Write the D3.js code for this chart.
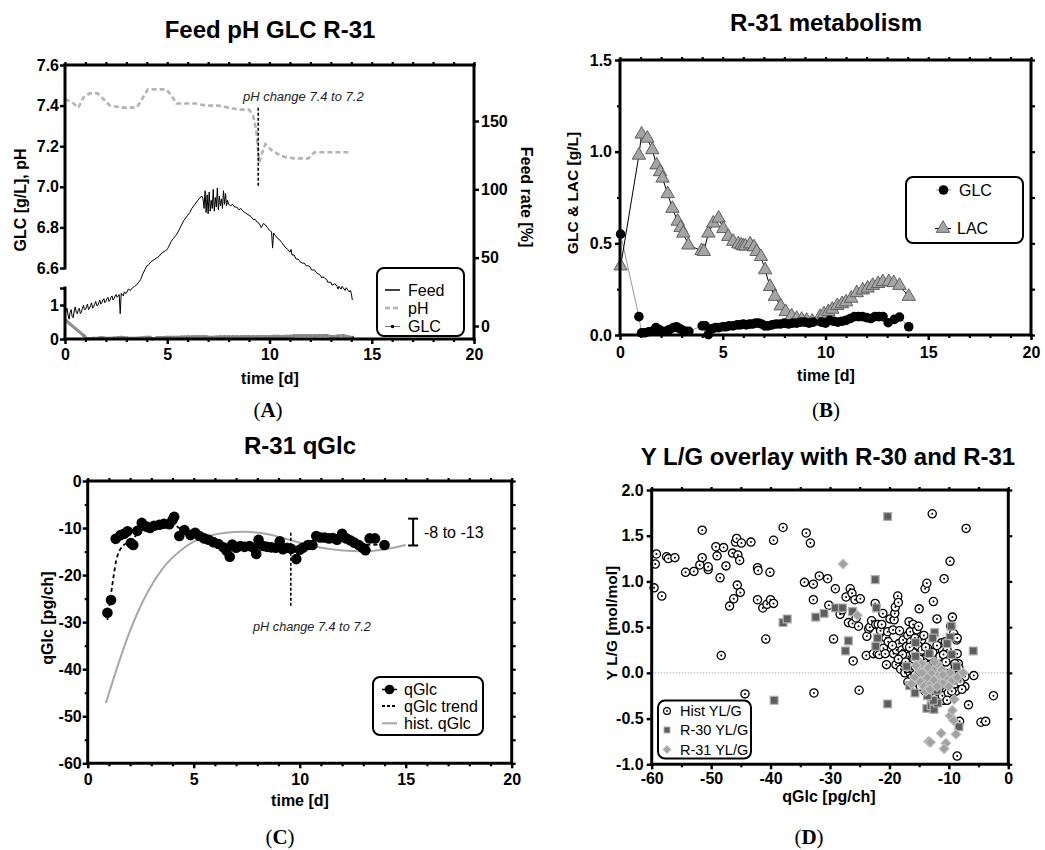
<!DOCTYPE html>
<html><head><meta charset="utf-8">
<script src="https://cdn.jsdelivr.net/npm/d3@7"></script>
<style>
body{margin:0;background:#fff}
svg{display:block}
</style></head><body>
<svg id="c" width="1045" height="850"></svg>
<script>
// ===================== DATA =====================
// Panel A: feed rate [%] over time [d]
const feedRate = [
[0,7],[0.05,11],[0.1,13],[0.15,8],[0.2,5],[0.25,10],[0.3,12],[0.35,7],[0.4,6],[0.45,11],[0.5,14],[0.55,10],[0.6,9],[0.65,12],[0.7,13],[0.75,9],[0.8,10],[0.85,13],[0.9,15],[0.95,12],
[1,12],[1.05,14],[1.1,16],[1.15,12],[1.2,13],[1.25,15],[1.3,17],[1.35,13],[1.4,14],[1.45,16],[1.5,18],[1.55,15],[1.6,15],[1.65,17],[1.7,19],[1.75,16],[1.8,17],[1.85,19],[1.9,20],[1.95,17],
[2,18],[2.05,20],[2.1,21],[2.15,18],[2.2,19],[2.25,21],[2.3,22],[2.35,19],[2.4,20],[2.45,22],[2.5,23],[2.55,21],[2.6,22],[2.65,23],[2.7,9],[2.75,24],[2.8,23],[2.85,22],[2.9,25],[2.95,24],
[3,24],[3.1,27],[3.2,26],[3.3,28],[3.4,29],[3.5,30],[3.6,32],[3.7,34],[3.8,38],[3.9,41],
[4,44],[4.1,45],[4.2,47],[4.3,48],[4.4,49],[4.5,50],[4.6,51],[4.7,53],[4.8,54],[4.9,55],
[5,56],[5.1,59],[5.2,62],[5.3,64],[5.4,66],[5.5,68],[5.6,71],[5.7,74],[5.8,77],[5.9,79],
[6,81],[6.1,83],[6.2,86],[6.3,88],[6.4,90],[6.5,92],[6.6,94],[6.7,95],[6.75,93],
[6.8,86],[6.85,99],[6.9,83],[6.95,96],[7,82],[7.05,98],[7.1,84],[7.15,92],[7.2,86],[7.25,100],
[7.3,84],[7.35,94],[7.4,87],[7.45,101],[7.5,85],[7.55,95],[7.6,88],[7.65,93],[7.7,86],[7.75,99],
[7.8,89],[7.85,97],[7.9,88],[7.95,92],[8,89],[8.1,88],[8.2,89],[8.3,87],[8.4,87],[8.5,85],
[8.6,86],[8.7,84],[8.8,83],[8.9,82],[9,81],[9.1,80],[9.2,78],[9.3,78],[9.4,76],[9.5,75],
[9.6,72],[9.7,75],[9.8,74],[9.9,72],[10,70],[10.1,69],[10.15,57],[10.2,68],[10.3,66],[10.4,64],
[10.5,63],[10.6,61],[10.7,59],[10.8,57],[10.9,56],[11,54],[11.05,56],[11.1,52],[11.2,52],[11.3,49],[11.4,49],
[11.5,47],[11.6,46],[11.7,46],[11.8,44],[11.9,44],[12,43],[12.05,41],[12.1,41],[12.2,41],[12.3,39],[12.4,38],
[12.5,37],[12.55,35],[12.6,36],[12.7,35],[12.8,34],[12.85,32],[12.9,32],[13,32],[13.05,30],[13.1,30],[13.2,31],[13.3,29],[13.35,27],[13.4,29],
[13.5,27],[13.55,29],[13.6,28],[13.7,26],[13.75,28],[13.8,27],[13.9,25],[13.95,26],[14,24],[14.05,19]
];
// Panel A: pH over time
const pHData = [
[0,7.43],[0.3,7.42],[0.65,7.39],[0.9,7.44],[1.2,7.46],[1.6,7.46],[1.9,7.43],[2.2,7.40],[2.8,7.39],
[3.5,7.39],[3.7,7.42],[4.05,7.48],[4.5,7.48],[4.95,7.48],[5.2,7.45],[5.45,7.41],[6.0,7.41],[6.4,7.41],
[6.9,7.40],[7.5,7.40],[8.0,7.39],[8.5,7.38],[9.0,7.38],[9.2,7.35],[9.35,7.28],[9.5,7.12],[9.65,7.17],
[9.8,7.21],[10.1,7.18],[10.6,7.15],[11.2,7.14],[11.9,7.14],[12.2,7.17],[13.0,7.17],[14.0,7.17]
];
// Panel A & B: glucose [g/L]
const glcData = [
[0.03,0.55],[0.92,0.10],[1.05,0.012],[1.2,0.012],[1.4,0.018],[1.6,0.022],[1.75,0.04],[1.9,0.03],[2.05,0.02],[2.2,0.02],
[2.4,0.03],[2.6,0.04],[2.75,0.045],[2.9,0.035],[3.05,0.025],[3.2,0.02],[3.35,0.02],[4.0,0.05],[4.15,0.05],[4.3,0.002],
[4.5,0.035],[4.65,0.04],[4.8,0.04],[5.0,0.045],[5.15,0.045],[5.3,0.05],[5.5,0.05],[5.7,0.055],[5.85,0.055],[6.0,0.06],
[6.15,0.055],[6.3,0.06],[6.45,0.06],[6.6,0.065],[6.75,0.065],[6.9,0.06],[7.05,0.05],[7.2,0.05],[7.4,0.055],[7.6,0.06],
[7.8,0.06],[8.0,0.065],[8.2,0.06],[8.4,0.065],[8.6,0.065],[8.8,0.07],[9.0,0.07],[9.2,0.065],[9.4,0.07],[9.8,0.07],
[10.0,0.065],[10.2,0.08],[10.4,0.075],[10.6,0.07],[10.8,0.075],[11.0,0.08],[11.2,0.09],[11.4,0.10],[11.6,0.10],[11.8,0.10],
[12.0,0.095],[12.2,0.09],[12.4,0.10],[12.6,0.10],[12.8,0.10],[13.05,0.067],[13.35,0.085],[13.6,0.098],[14.05,0.045]
];
// Panel B: lactate [g/L]
const lacData = [
[0.03,0.376],[0.92,0.98],[1.05,1.095],[1.33,1.073],[1.57,1.01],[1.78,0.927],[1.95,0.89],[2.07,0.855],[2.32,0.77],[2.55,0.69],
[2.81,0.62],[2.95,0.585],[3.08,0.555],[3.33,0.49],[3.97,0.46],[4.08,0.455],[4.3,0.555],[4.54,0.61],[4.8,0.637],[5.03,0.58],
[5.27,0.537],[5.51,0.51],[5.76,0.496],[5.9,0.49],[6.0,0.485],[6.1,0.485],[6.33,0.496],[6.52,0.48],[6.65,0.455],[6.86,0.427],
[7.06,0.355],[7.3,0.264],[7.54,0.21],[7.82,0.158],[8.06,0.127],[8.35,0.104],[8.6,0.09],[8.84,0.085],[9.08,0.08],[9.35,0.075],
[9.73,0.10],[9.93,0.115],[10.14,0.127],[10.33,0.14],[10.57,0.16],[10.8,0.17],[11.0,0.18],[11.25,0.2],[11.52,0.23],[11.81,0.245],
[12.05,0.255],[12.3,0.27],[12.56,0.28],[12.79,0.29],[13.08,0.29],[13.32,0.285],[13.6,0.27],[14.05,0.21]
];
// Panel C: specific glucose uptake [pg/ch]
const qGlcData = [
[0.93,-28],[1.1,-25.3],[1.32,-12.3],[1.55,-11.5],[1.72,-11.2],[1.88,-10.7],[2.04,-13.2],[2.15,-13.6],[2.34,-10.6],[2.55,-8.9],
[2.78,-9.7],[2.94,-10],[3.13,-9.5],[3.38,-9.3],[3.6,-9.1],[3.85,-9.2],[4.0,-8.3],[4.08,-7.6],[4.32,-11.7],[4.56,-10.4],
[4.85,-11.5],[5.07,-11],[5.27,-11.7],[5.5,-12.2],[5.7,-12.5],[5.93,-13],[6.17,-13.4],[6.4,-14.1],[6.55,-14.8],[6.7,-16.1],
[6.82,-13.5],[7.0,-14.2],[7.2,-13.8],[7.4,-14],[7.63,-13.8],[7.82,-14.2],[7.95,-15.5],[8.06,-12.5],[8.27,-13.8],[8.46,-14],
[8.66,-14.1],[8.87,-14.2],[9.06,-12.8],[9.21,-14.5],[9.4,-14.2],[9.6,-14.4],[9.84,-16.6],[10.0,-14.6],[10.15,-14.2],[10.39,-13.6],
[10.6,-13.6],[10.78,-11.7],[10.97,-12],[11.17,-12],[11.38,-12.2],[11.57,-12.1],[11.76,-12.5],[12.0,-11.2],[12.2,-12.2],[12.38,-12.6],
[12.58,-13.1],[12.79,-13.6],[12.97,-14.2],[13.1,-14.7],[13.3,-12.2],[13.55,-12.2],[14.0,-13.6]
];
const qGlcTrend = [
[0.93,-29.5],[1.1,-24],[1.22,-20.3],[1.35,-16.8],[1.5,-14.8],[1.7,-13.6],[2.0,-12.7],[2.3,-11.5],[2.6,-10.2],[3.0,-9.5],
[3.5,-9.0],[3.9,-8.4],[4.2,-9.6],[4.6,-10.8],[5.2,-11.8],[6.0,-13],[7.0,-14],[8.0,-14.2],[9.0,-14.2],[10.0,-14.3],
[10.7,-13],[11.5,-12.3],[12.3,-12.5],[13.0,-13.5],[14.0,-13.4]
];
const histQGlc = [
[0.86,-47.2],[1.4,-39.5],[2.0,-31.8],[2.6,-25.6],[3.2,-20.8],[3.8,-17.2],[4.4,-14.7],[5.0,-12.9],[5.7,-11.7],[6.5,-11.0],
[7.5,-10.8],[8.5,-11.3],[9.5,-12.5],[10.5,-13.7],[11.5,-14.5],[12.5,-14.9],[13.5,-14.8],[14.3,-14.3],[15.0,-13.6]
];
const qGlcRange = [-8, -13.7];
// Panel D: yield lactate/glucose vs qGlc
const histYLG = [
[-59.6,0.93],[-59.4,1.19],[-59.2,1.30],[-58.3,0.84],[-57.5,1.27],[-57.2,1.25],[-56.1,1.26],[-54.3,1.10],[-52.9,1.11],[-51.9,1.18],
[-51.5,1.26],[-51.5,1.56],[-50.5,1.13],[-50.5,1.16],[-49.2,1.38],[-49.0,1.28],[-48.5,1.04],[-47.9,1.37],[-47.5,1.17],[-48.3,0.19],
[-46.9,0.73],[-46.4,1.31],[-46.2,0.81],[-45.9,1.43],[-45.7,1.47],[-45.5,1.29],[-45.6,0.96],[-45.2,1.23],[-45.1,0.88],[-44.9,1.42],
[-44.3,-0.23],[-43.3,1.43],[-42.2,1.15],[-42.1,1.12],[-42.2,0.80],[-41.3,0.71],[-40.8,0.37],[-40.6,0.75],[-40.1,1.10],[-40.0,0.80],
[-39.5,0.76],[-39.5,1.45],[-37.9,1.59],[-34.3,0.99],[-34.0,1.53],[-33.3,1.42],[-32.8,0.97],[-32.8,0.80],[-32.7,-0.22],[-31.8,1.06],
[-30.4,1.03],[-30.2,0.74],[-29.4,0.37],[-29.1,0.92],[-28.3,0.64],[-27.9,0.69],[-27.3,0.83],[-26.9,0.55],[-26.6,0.92],[-26.3,0.87],
[-26.2,0.54],[-26.1,0.13],[-25.8,0.80],[-25.6,0.60],[-25.2,0.51],[-25.1,-0.19],[-24.9,0.81],[-23.9,0.19],[-23.8,0.40],[-23.5,0.48],
[-23.3,0.50],[-23.0,0.57],[-22.7,0.21],[-22.4,0.76],[-22.3,0.53],[-22.0,0.21],[-21.9,0.53],[-21.7,0.20],[-21.5,0.46],[-21.3,0.53],
[-21.1,0.65],[-21.0,0.27],[-20.7,0.21],[-20.6,0.38],[-20.5,0.09],[-20.3,0.45],[-20.2,0.34],[-19.9,0.59],[-19.4,0.47],[-19.3,0.21],
[-19.2,0.58],[-19.1,0.65],[-19.0,0.72],[-18.9,0.09],[-18.8,0.25],[-18.6,0.84],[-18.5,0.77],[-18.4,0.32],[-18.3,0.46],[-18.2,0.17],
[-18.1,0.04],[-17.9,0.25],[-17.7,0.36],[-17.5,0.10],[-17.4,0.0],[-17.2,0.21],[-17.1,0.29],[-16.9,0.41],[-16.8,0.14],[-16.7,0.56],
[-16.5,0.45],[-16.4,0.34],[-16.3,0.25],[-16.1,0.07],[-16.0,0.53],[-15.7,0.38],[-15.6,0.23],[-15.4,0.47],[-15.2,0.18],[-15.1,0.51],
[-15.0,0.70],[-14.9,0.29],[-14.7,0.09],[-14.6,0.36],[-14.4,0.21],[-14.2,0.41],[-14.0,0.92],[-13.7,0.98],[-13.6,0.27],[-13.5,0.14],
[-13.2,0.21],[-12.8,1.74],[-12.6,0.78],[-12.4,0.23],[-12.2,0.14],[-12.0,0.59],[-11.5,0.0],[-11.2,0.33],[-10.9,-0.30],[-10.8,1.03],
[-10.6,0.34],[-10.3,0.25],[-9.8,1.22],[-9.7,0.51],[-9.4,0.61],[-9.2,0.43],[-8.9,-0.07],[-8.7,0.36],[-8.6,0.21],[-8.4,0.10],
[-8.2,-0.53],[-8.1,-0.15],[-7.3,-0.04],[-7.3,-0.15],[-7.1,1.58],[-6.7,-0.35],[-5.8,-0.03],[-4.6,-0.54],[-3.8,-0.53],[-2.5,-0.25],
[-8.6,-0.91],[-9.2,0.05],[-8.6,0.38],
[-16.5,0.0],[-16.2,-0.05],[-15.8,0.08],[-15.5,-0.1],[-15.3,0.12],[-15.0,0.02],[-14.8,-0.15],[-14.6,0.05],[-14.4,-0.08],[-14.2,0.15],
[-14.0,-0.2],[-13.8,0.0],[-13.6,-0.12],[-13.4,0.08],[-13.2,-0.18],[-13.0,0.03],[-12.8,-0.1],[-12.6,0.12],[-12.4,-0.2],[-12.2,-0.05],
[-12.0,0.05],[-11.8,-0.15],[-11.6,-0.22],[-11.4,0.1],[-11.2,-0.08],[-11.0,-0.18],[-10.8,0.02],[-10.6,-0.12],[-10.4,-0.2],[-10.2,0.08],
[-10.0,-0.05],[-9.8,-0.15],[-9.6,0.0],[-9.4,-0.18],[-9.2,-0.1],[-9.0,0.1],[-8.8,-0.2],[-8.6,-0.05],[-8.3,0.05],[-16.8,0.18],
[-16.0,0.22],[-15.2,0.3],[-14.5,0.25],[-13.9,0.28],[-13.3,0.18],[-12.7,0.22],[-12.0,0.3],[-11.5,0.18],[-10.9,0.2],[-10.5,0.12],
[-17.0,0.05],[-16.4,0.12],[-15.7,-0.02],[-14.9,0.15],[-14.1,-0.05],[-13.5,-0.25],[-12.9,-0.22],[-12.3,0.1],[-11.7,0.05],[-11.1,-0.25],
[-10.7,-0.1],[-10.1,-0.22],[-9.5,-0.2],[-9.0,-0.12],[-12.5,-0.28],[-13.7,-0.22],[-14.7,-0.08],[-15.9,0.15],[-17.3,0.12],[-16.6,0.28],
[-17.8,0.2],[-18.5,0.15],[-19.5,0.3],[-16.9,-0.1],[-10.3,-0.3],[-8.1,-0.1],[-7.8,-0.18]
];
const r30YLG = [
[-20.3,1.71],[-22.4,1.02],[-37.9,0.55],[-37.2,0.59],[-32.4,0.61],[-31.0,0.65],[-29.1,0.71],[-27.9,0.71],[-26.2,0.67],[-26.9,0.35],
[-27.4,0.24],[-39.4,-0.30],[-20.3,-0.34],[-22.2,0.71],[-22.0,0.38],[-22.3,0.29],[-15.6,0.33],[-15.6,0.18],[-12.4,0.44],[-12.7,0.38],
[-13.3,0.21],[-16.6,-0.14],[-15.7,-0.22],[-13.7,-0.39],[-13.0,-0.36],[-12.5,-0.40],[-11.9,-0.33],[-12.6,-0.30],[-9.8,0.39],[-9.6,0.51],
[-10.3,0.32],[-9.5,0.20],[-8.7,0.07],[-8.5,-0.06],[-8.3,-0.59],[-5.9,0.24],[-15.1,0.0],[-14.0,-0.08],[-12.0,-0.19],[-10.9,-0.08],
[-9.2,-0.08],[-17.1,0.07],[-13.6,-0.25],[-11.5,-0.12]
];
const r31YLG = [
[-27.8,1.19],[-25.4,0.63],[-13.4,-0.75],[-13.1,-0.76],[-11.3,-0.66],[-10.5,-0.77],[-10.8,-0.83],[-9.8,-0.47],[-9.4,-0.41],[-9.2,-0.52],
[-9.1,-0.29],[-8.8,-0.67],[-7.6,0.0],[-15.8,-0.05],[-15.2,0.05],[-14.8,-0.1],[-14.5,0.0],[-14.2,-0.15],[-14.0,0.08],[-13.6,-0.05],
[-13.4,0.05],[-13.0,-0.12],[-12.8,0.0],[-12.5,-0.08],[-12.2,0.05],[-12.0,-0.15],[-11.6,-0.02],[-11.2,0.03],[-10.8,-0.1],[-10.3,-0.05],
[-9.8,0.0],[-9.4,-0.08],[-16.3,-0.12],[-13.9,-0.2],[-11.9,0.1],[-10.0,-0.15],[-8.6,-0.05],[-14.6,0.1],[-13.2,-0.18],[-12.4,0.12],
[-11.0,-0.02],[-15.5,0.08]
];
// tick values
const timeTicks = [0,5,10,15,20];
const pHTicks = [6.6,6.8,7.0,7.2,7.4,7.6];
const glcTicksA = [0,1,1.5];
const feedTicks = [0,50,100,150];
const bTicks = [0,0.5,1.0,1.5];
const cTicks = [0,-10,-20,-30,-40,-50,-60];
const dXTicks = [-60,-50,-40,-30,-20,-10,0];
const dYTicks = [-1.0,-0.5,0.0,0.5,1.0,1.5,2.0];

// ===================== DRAWING =====================
const F = '"Liberation Sans", Arial, Helvetica, sans-serif';
const SERIF = '"Liberation Serif", "Times New Roman", serif';
const svg = d3.select('#c');

function axis(g, gen, tx, ty, fs){
  const a = g.append('g').attr('transform',`translate(${tx},${ty})`).call(gen);
  a.select('.domain').remove();
  a.selectAll('.tick line').attr('stroke','#000').attr('stroke-width',2.5);
  a.selectAll('.tick text').attr('font-family',F).attr('font-weight','bold').attr('font-size',fs||16).attr('fill','#000');
  return a;
}
function minor(g, gen, tx, ty){
  const a = g.append('g').attr('transform',`translate(${tx},${ty})`).call(gen.tickFormat(''));
  a.select('.domain').remove();
  a.selectAll('.tick line').attr('stroke','#000').attr('stroke-width',2.2);
  return a;
}
function seg(g,x1,y1,x2,y2,w){
  g.append('line').attr('x1',x1).attr('y1',y1).attr('x2',x2).attr('y2',y2)
   .attr('stroke','#000').attr('stroke-width',w||3).attr('stroke-linecap','square');
}
function txt(g,x,y,s,o){
  o=o||{};
  const t=g.append('text').attr('x',x).attr('y',y).text(s)
    .attr('font-family',o.ff||F).attr('font-size',o.fs||16).attr('font-weight',o.fw||'normal')
    .attr('text-anchor',o.anchor||'start').attr('fill',o.fill||'#000');
  if(o.rot!==undefined) t.attr('transform',`rotate(${o.rot},${x},${y})`);
  if(o.italic) t.attr('font-style','italic');
  if(o.dy) t.attr('dy',o.dy);
  return t;
}
function panelLabel(x,y,letter){
  const t = svg.append('text').attr('x',x).attr('y',y).attr('text-anchor','middle')
    .attr('font-family',SERIF).attr('font-size',21).attr('fill','#000');
  t.append('tspan').text('(');
  t.append('tspan').attr('font-weight','bold').text(letter);
  t.append('tspan').text(')');
}
function legendBox(g,x,y,w,h){
  g.append('rect').attr('x',x).attr('y',y).attr('width',w).attr('height',h).attr('rx',7)
   .attr('fill','#fff').attr('stroke','#000').attr('stroke-width',2);
}
const fmt1 = d=>d.toFixed(1);
const fmtI = d=>String(d);
const dayMinor = d3.range(0,21).filter(d=>d%5!==0);

// ---------------- Panel A ----------------
(function(){
  const g = svg.append('g');
  const x = d3.scaleLinear().domain([0,20]).range([65,474]);
  const yPH = d3.scaleLinear().domain([6.6,7.6]).range([268,65]);
  const yG = d3.scaleLinear().domain([0,1.5]).range([339,288]);
  const yF = d3.scaleLinear().domain([0,150]).range([326,121]);

  g.append('path').datum(feedRate).attr('fill','none').attr('stroke','#000').attr('stroke-width',1)
    .attr('d',d3.line().x(d=>x(d[0])).y(d=>yF(d[1])));
  g.append('path').datum(pHData).attr('fill','none').attr('stroke','#b4b4b4').attr('stroke-width',2.6)
    .attr('stroke-dasharray','5,3').attr('d',d3.line().x(d=>x(d[0])).y(d=>yPH(d[1])));
  g.selectAll('circle.ga').data(glcData).join('circle').attr('cx',d=>x(d[0])).attr('cy',d=>yG(d[1])).attr('r',1.6).attr('fill','#222');
  g.append('path').datum(glcData).attr('fill','none').attr('stroke','#8a8a8a').attr('stroke-width',3.2).attr('opacity',0.95)
    .attr('d',d3.line().x(d=>x(d[0])).y(d=>yG(d[1])));
  g.append('line').attr('x1',x(9.45)).attr('x2',x(9.45)).attr('y1',yPH(7.39)).attr('y2',yPH(7.0))
    .attr('stroke','#000').attr('stroke-width',1.6).attr('stroke-dasharray','3,2');
  txt(g,x(8.7),yPH(7.425),'pH change 7.4 to 7.2',{fs:13,italic:true,fill:'#222'});

  axis(g,d3.axisBottom(x).tickValues(timeTicks).tickSize(5).tickPadding(5).tickFormat(fmtI),0,339);
  minor(g,d3.axisBottom(x).tickValues(dayMinor).tickSize(3),0,339);
  minor(g,d3.axisTop(x).tickValues(d3.range(0,21)).tickSize(3),0,65);
  axis(g,d3.axisLeft(yPH).tickValues(pHTicks).tickSize(5).tickPadding(1).tickFormat(fmt1),65,0);
  axis(g,d3.axisLeft(yG).tickValues(glcTicksA).tickSize(5).tickPadding(1).tickFormat(d=>d===1.5?'':fmtI(d)),65,0);
  axis(g,d3.axisRight(yF).tickValues(feedTicks).tickSize(5).tickPadding(2).tickFormat(fmtI),474,0);
  seg(g,65,65,474,65); seg(g,474,65,474,339); seg(g,65,339,474,339);
  seg(g,65,65,65,268); seg(g,65,288,65,339);

  txt(g,270,38,'Feed pH GLC R-31',{fs:24,fw:'bold',anchor:'middle'});
  txt(g,20,200,'GLC [g/L], pH',{fs:16,fw:'bold',anchor:'middle',rot:-90,dy:'0.35em'});
  txt(g,270,384,'time [d]',{fs:16,fw:'bold',anchor:'middle'});
  txt(g,527,197,'Feed rate [%]',{fs:16,fw:'bold',anchor:'middle',rot:90,dy:'0.35em'});

  legendBox(g,377,268,87,68);
  const ly=[290,308,326.5];
  g.append('line').attr('x1',385).attr('x2',400).attr('y1',ly[0]).attr('y2',ly[0]).attr('stroke','#000').attr('stroke-width',1.5);
  g.append('line').attr('x1',385).attr('x2',400).attr('y1',ly[1]).attr('y2',ly[1]).attr('stroke','#b4b4b4').attr('stroke-width',2.6).attr('stroke-dasharray','5,3');
  g.append('line').attr('x1',385).attr('x2',400).attr('y1',ly[2]).attr('y2',ly[2]).attr('stroke','#777').attr('stroke-width',1);
  g.append('circle').attr('cx',392.5).attr('cy',ly[2]).attr('r',1.8).attr('fill','#000');
  ['Feed','pH','GLC'].forEach((s,i)=>txt(g,408,ly[i],s,{fs:16,dy:'0.35em'}));
})();

// ---------------- Panel B ----------------
(function(){
  const g = svg.append('g');
  const x = d3.scaleLinear().domain([0,20]).range([620,1031]);
  const y = d3.scaleLinear().domain([0,1.5]).range([335,60]);
  const tri = d3.symbol(d3.symbolTriangle,78);

  g.append('path').datum(glcData).attr('fill','none').attr('stroke','#999').attr('stroke-width',1)
    .attr('d',d3.line().x(d=>x(d[0])).y(d=>y(d[1])));
  g.append('path').datum(lacData).attr('fill','none').attr('stroke','#000').attr('stroke-width',1)
    .attr('d',d3.line().x(d=>x(d[0])).y(d=>y(d[1])));
  g.selectAll('path.lac').data(lacData).join('path').attr('class','lac').attr('d',tri)
    .attr('transform',d=>`translate(${x(d[0])},${y(d[1])})`).attr('fill','#a5a5a5').attr('stroke','#555').attr('stroke-width',0.9);
  g.selectAll('circle.glc').data(glcData).join('circle').attr('class','glc')
    .attr('cx',d=>x(d[0])).attr('cy',d=>y(d[1])).attr('r',4.8).attr('fill','#000');

  axis(g,d3.axisBottom(x).tickValues(timeTicks).tickSize(5).tickPadding(7).tickFormat(fmtI),0,335);
  minor(g,d3.axisBottom(x).tickValues(dayMinor).tickSize(3),0,335);
  minor(g,d3.axisTop(x).tickValues(d3.range(0,21)).tickSize(3),0,60);
  axis(g,d3.axisLeft(y).tickValues(bTicks).tickSize(5).tickPadding(3).tickFormat(fmt1),620,0);
  minor(g,d3.axisLeft(y).tickValues([0.25,0.75,1.25]).tickSize(3),620,0);
  minor(g,d3.axisRight(y).tickValues(d3.range(0,7).map(i=>i*0.25)).tickSize(4),1031,0);
  seg(g,620,60,1031,60); seg(g,1031,60,1031,335); seg(g,620,335,1031,335); seg(g,620,60,620,335);

  txt(g,826,31,'R-31 metabolism',{fs:24,fw:'bold',anchor:'middle'});
  txt(g,573,193,'GLC & LAC [g/L]',{fs:15.5,fw:'bold',anchor:'middle',rot:-90,dy:'0.35em'});
  txt(g,826,381,'time [d]',{fs:16,fw:'bold',anchor:'middle'});

  legendBox(g,906,177,117,66);
  g.append('line').attr('x1',936).attr('x2',951).attr('y1',190).attr('y2',190).attr('stroke','#999').attr('stroke-width',1);
  g.append('circle').attr('cx',943.5).attr('cy',190).attr('r',4.8).attr('fill','#000');
  g.append('line').attr('x1',935).attr('x2',951).attr('y1',228.5).attr('y2',228.5).attr('stroke','#000').attr('stroke-width',1);
  g.append('path').attr('d',tri).attr('transform','translate(943,228.5)').attr('fill','#a5a5a5').attr('stroke','#555').attr('stroke-width',0.9);
  txt(g,959,190,'GLC',{fs:16,dy:'0.35em'});
  txt(g,957,228.5,'LAC',{fs:16,dy:'0.35em'});
})();

// ---------------- Panel C ----------------
(function(){
  const g = svg.append('g');
  const x = d3.scaleLinear().domain([0,20]).range([87.7,511.7]);
  const y = d3.scaleLinear().domain([-60,0]).range([763.3,481]);

  g.append('path').datum(histQGlc).attr('fill','none').attr('stroke','#a8a8a8').attr('stroke-width',2)
    .attr('d',d3.line().curve(d3.curveCatmullRom.alpha(0.5)).x(d=>x(d[0])).y(d=>y(d[1])));
  g.append('path').datum(qGlcTrend).attr('fill','none').attr('stroke','#000').attr('stroke-width',1.8)
    .attr('stroke-dasharray','4,3').attr('d',d3.line().curve(d3.curveCatmullRom).x(d=>x(d[0])).y(d=>y(d[1])));
  g.selectAll('circle.q').data(qGlcData).join('circle').attr('class','q')
    .attr('cx',d=>x(d[0])).attr('cy',d=>y(d[1])).attr('r',5.3).attr('fill','#000');

  g.append('line').attr('x1',x(9.58)).attr('x2',x(9.58)).attr('y1',y(-11)).attr('y2',y(-26.8))
    .attr('stroke','#000').attr('stroke-width',1.6).attr('stroke-dasharray','3,2');
  txt(g,x(7.8),y(-31.9),'pH change 7.4 to 7.2',{fs:12.7,italic:true,fill:'#222'});
  const bx = x(15.35);
  g.append('line').attr('x1',bx).attr('x2',bx).attr('y1',y(qGlcRange[0])).attr('y2',y(qGlcRange[1])).attr('stroke','#000').attr('stroke-width',2);
  qGlcRange.forEach(v=>g.append('line').attr('x1',bx-5).attr('x2',bx+5).attr('y1',y(v)).attr('y2',y(v)).attr('stroke','#000').attr('stroke-width',2));
  txt(g,424,y(-11),'-8 to -13',{fs:16,dy:'0.35em'});

  axis(g,d3.axisBottom(x).tickValues(timeTicks).tickSize(5).tickPadding(5).tickFormat(fmtI),0,763.3);
  minor(g,d3.axisBottom(x).tickValues(dayMinor).tickSize(3),0,763.3);
  minor(g,d3.axisTop(x).tickValues(d3.range(0,21)).tickSize(3),0,481);
  axis(g,d3.axisLeft(y).tickValues(cTicks).tickSize(5).tickPadding(1).tickFormat(fmtI),87.7,0);
  minor(g,d3.axisLeft(y).tickValues([-5,-15,-25,-35,-45,-55]).tickSize(3),87.7,0);
  minor(g,d3.axisRight(y).tickValues(d3.range(-60,1,5)).tickSize(4),511.7,0);
  seg(g,87.7,481,511.7,481); seg(g,511.7,481,511.7,763.3); seg(g,87.7,763.3,511.7,763.3); seg(g,87.7,481,87.7,763.3);

  txt(g,300,454,'R-31 qGlc',{fs:24,fw:'bold',anchor:'middle'});
  txt(g,47,618,'qGlc [pg/ch]',{fs:16,fw:'bold',anchor:'middle',rot:-90,dy:'0.35em'});
  txt(g,300,806,'time [d]',{fs:16,fw:'bold',anchor:'middle'});

  legendBox(g,373,677,110,58);
  const ly=[689.5,706,723.3];
  g.append('line').attr('x1',382).attr('x2',397).attr('y1',ly[0]).attr('y2',ly[0]).attr('stroke','#000').attr('stroke-width',1.5);
  g.append('circle').attr('cx',389.5).attr('cy',ly[0]).attr('r',4.8).attr('fill','#000');
  g.append('line').attr('x1',382).attr('x2',397).attr('y1',ly[1]).attr('y2',ly[1]).attr('stroke','#000').attr('stroke-width',1.8).attr('stroke-dasharray','3,2');
  g.append('line').attr('x1',382).attr('x2',397).attr('y1',ly[2]).attr('y2',ly[2]).attr('stroke','#a8a8a8').attr('stroke-width',2);
  ['qGlc','qGlc trend','hist. qGlc'].forEach((s,i)=>txt(g,404,ly[i],s,{fs:16,dy:'0.35em'}));
})();

// ---------------- Panel D ----------------
(function(){
  const g = svg.append('g');
  const x = d3.scaleLinear().domain([-60,0]).range([651.7,1008.3]);
  const y = d3.scaleLinear().domain([-1,2]).range([764.3,490]);
  const sq = d3.symbol(d3.symbolSquare,62);
  const dia = d3.symbol(d3.symbolSquare,50);

  g.append('line').attr('x1',x(-60)).attr('x2',x(0)).attr('y1',y(0)).attr('y2',y(0))
    .attr('stroke','#999').attr('stroke-width',0.8).attr('stroke-dasharray','1.5,1.5');

  const hc = g.selectAll('g.h').data(histYLG).join('g').attr('class','h')
    .attr('transform',d=>`translate(${x(d[0])},${y(d[1])})`);
  hc.append('circle').attr('r',4.1).attr('fill','#fff').attr('stroke','#000').attr('stroke-width',1.3);
  hc.append('circle').attr('r',1).attr('fill','#000');

  g.selectAll('path.r30').data(r30YLG).join('path').attr('class','r30').attr('d',sq)
    .attr('transform',d=>`translate(${x(d[0])},${y(d[1])})`).attr('fill','#5e5e5e').attr('stroke','#b0b0b0').attr('stroke-width',1.2);
  g.selectAll('path.r31').data(r31YLG).join('path').attr('class','r31').attr('d',dia)
    .attr('transform',d=>`translate(${x(d[0])},${y(d[1])}) rotate(45)`).attr('fill','#a2a2a2').attr('stroke','#c4c4c4').attr('stroke-width',1);

  axis(g,d3.axisBottom(x).tickValues(dXTicks).tickSize(5).tickPadding(3).tickFormat(fmtI),0,764.3);
  minor(g,d3.axisBottom(x).tickValues([-55,-45,-35,-25,-15,-5]).tickSize(3),0,764.3);
  minor(g,d3.axisTop(x).tickValues(d3.range(-60,1,5)).tickSize(3),0,490);
  axis(g,d3.axisLeft(y).tickValues(dYTicks).tickSize(5).tickPadding(3).tickFormat(fmt1),651.7,0);
  minor(g,d3.axisRight(y).tickValues(dYTicks).tickSize(4),1008.3,0);
  seg(g,651.7,490,1008.3,490); seg(g,1008.3,490,1008.3,764.3); seg(g,651.7,764.3,1008.3,764.3); seg(g,651.7,490,651.7,764.3);

  txt(g,828,465,'Y L/G overlay with R-30 and R-31',{fs:24,fw:'bold',anchor:'middle'});
  txt(g,612,623,'Y L/G [mol/mol]',{fs:15.5,fw:'bold',anchor:'middle',rot:-90,dy:'0.35em'});
  txt(g,829,802,'qGlc [pg/ch]',{fs:16,fw:'bold',anchor:'middle'});

  legendBox(g,658,700.5,93,58);
  const ly=[711,730,749.5];
  const l0 = g.append('g').attr('transform',`translate(667,${ly[0]})`);
  l0.append('circle').attr('r',3.4).attr('fill','#fff').attr('stroke','#000').attr('stroke-width',1.2);
  l0.append('circle').attr('r',0.9).attr('fill','#000');
  g.append('path').attr('d',d3.symbol(d3.symbolSquare,36)).attr('transform',`translate(667,${ly[1]})`).attr('fill','#5e5e5e').attr('stroke','#b0b0b0').attr('stroke-width',1);
  g.append('path').attr('d',d3.symbol(d3.symbolSquare,32)).attr('transform',`translate(667,${ly[2]}) rotate(45)`).attr('fill','#a2a2a2').attr('stroke','#c4c4c4').attr('stroke-width',1);
  ['Hist YL/G','R-30 YL/G','R-31 YL/G'].forEach((s,i)=>txt(g,680,ly[i],s,{fs:14.5,dy:'0.35em'}));
})();

panelLabel(268,417,'A');
panelLabel(826,417,'B');
panelLabel(280,844,'C');
panelLabel(809,844,'D');
</script>
</body></html>
